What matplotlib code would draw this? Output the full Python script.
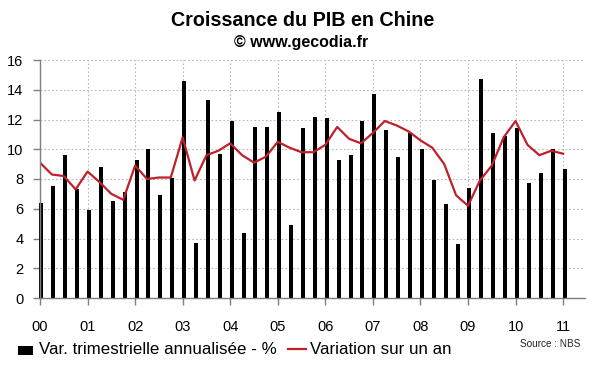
import matplotlib
matplotlib.use("Agg")
import matplotlib.pyplot as plt
from matplotlib.patches import Rectangle
from matplotlib.lines import Line2D

plt.rcParams['font.family'] = ['Liberation Sans', 'DejaVu Sans']

years = ["00", "01", "02", "03", "04", "05", "06", "07", "08", "09", "10", "11"]

# Quarterly annualised growth (%), 2000Q1 .. 2011Q1
quarterly = [6.4, 7.5, 9.6, 7.3, 5.9, 8.8, 6.5, 7.1,
             9.3, 10.0, 6.9, 8.1, 14.6, 3.7, 13.3, 9.7,
             11.9, 4.4, 11.5, 11.5, 12.5, 4.9, 11.4, 12.2,
             12.1, 9.3, 9.6, 11.9, 13.7, 11.3, 9.5, 11.1,
             10.0, 7.9, 6.3, 3.6, 7.4, 14.7, 11.1, 10.9,
             11.4, 7.7, 8.4, 10.0, 8.7]

# Year-on-year growth (%)
yoy = [9.1, 8.3, 8.2, 7.3, 8.5, 7.8, 7.0, 6.6,
       8.9, 8.0, 8.1, 8.1, 10.8, 7.9, 9.6, 9.9,
       10.4, 9.6, 9.1, 9.5, 10.5, 10.1, 9.8, 9.8,
       10.3, 11.5, 10.7, 10.4, 11.1, 11.9, 11.6, 11.2,
       10.6, 10.1, 9.0, 6.9, 6.2, 7.9, 8.9, 10.8,
       11.9, 10.3, 9.6, 9.9, 9.7]

W, H = 600, 372
fig = plt.figure(figsize=(6, 3.72), dpi=100)
ax = fig.add_axes([40 / W, 1 - 298 / H, (585 - 40) / W, (298 - 60) / H])

x = list(range(len(quarterly)))
xb = [v + 0.12 for v in x]
bars = ax.bar(xb, quarterly, width=0.34, color="black", zorder=3, clip_on=False)
line, = ax.plot(x, yoy, color="#C0202A", lw=1.6, zorder=4, solid_joinstyle="round")

ax.set_xlim(0, 45.84)
ax.set_ylim(0, 16)
ax.set_yticks(range(0, 17, 2))
ax.set_xticks([4 * i for i in range(len(years))])
ax.set_xticklabels(years)

for s in ["top", "right"]:
    ax.spines[s].set_visible(False)
for s in ["left", "bottom"]:
    ax.spines[s].set_color("#7f7f7f")
    ax.spines[s].set_linewidth(1.0)
    ax.spines[s].set_zorder(5)

ax.grid(True, color="#b8b8b8", linestyle=(0, (1.5, 2.0)), linewidth=0.8, zorder=0)
ax.tick_params(axis="both", colors="#7f7f7f", labelcolor="black", labelsize=10.5,
               length=5, width=1.0, direction="out")
ax.tick_params(axis="x", pad=11)
ax.tick_params(axis="y", pad=7)

fig.text(303 / W, 1 - 20 / H, "Croissance du PIB en Chine", ha="center", va="center",
         fontsize=14.2, fontweight="bold")
fig.text(301 / W, 1 - 42 / H, "\u00a9 www.gecodia.fr", ha="center", va="center",
         fontsize=11.5, fontweight="bold")

# Legend
fig.patches.append(Rectangle((18 / W, 1 - 355 / H), 15 / W, 9 / H, transform=fig.transFigure,
                             facecolor=bars.patches[0].get_facecolor(), edgecolor="none"))
fig.text(39 / W, 1 - 349.5 / H, "Var. trimestrielle annualis\u00e9e - %", ha="left", va="center",
         fontsize=12.2)
fig.lines.append(Line2D([288 / W, 306 / W], [1 - 349 / H, 1 - 349 / H], transform=fig.transFigure,
                        color=line.get_color(), lw=1.6))
fig.text(310 / W, 1 - 349.5 / H, "Variation sur un an", ha="left", va="center", fontsize=12.2)
fig.text(580 / W, 1 - 344 / H, "Source : NBS", ha="right", va="center", fontsize=7.2, color="#222222")

fig.savefig("out.png", dpi=100)
